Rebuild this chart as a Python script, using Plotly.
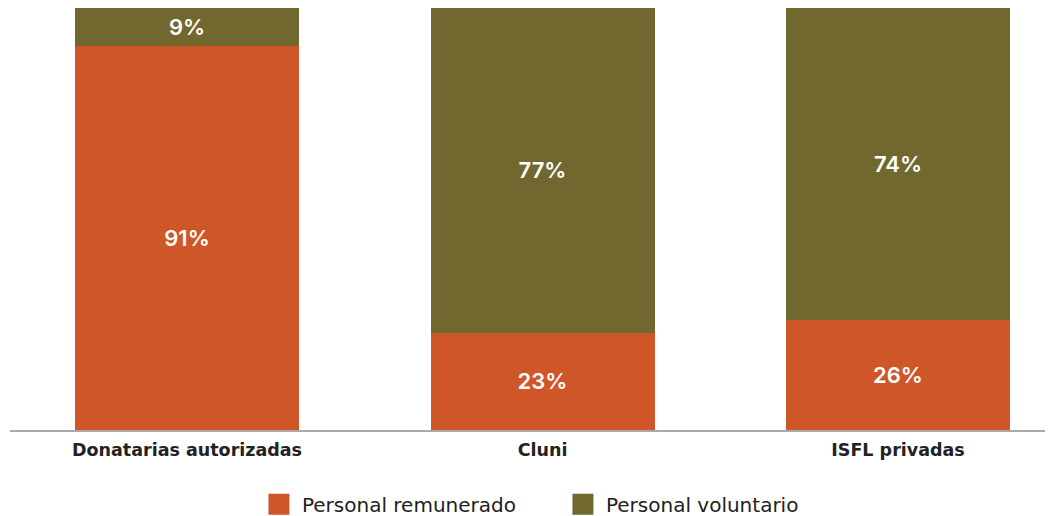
import plotly.graph_objects as go

categories = ["Donatarias autorizadas", "Cluni", "ISFL privadas"]
remunerado = [91, 23, 26]
voluntario = [9, 77, 74]
series_names = ["Personal remunerado", "Personal voluntario"]
colors = ["#CF5628", "#716830"]

LABEL_FONT = "Inter"
TEXT_FONT = "DejaVu Sans"

fig = go.Figure()
for name, vals, col in zip(series_names, [remunerado, voluntario], colors):
    fig.add_trace(go.Bar(
        x=categories, y=vals, name=name, marker_color=col, marker_line_width=0,
        text=[f"{v}%" for v in vals], textposition="inside", insidetextanchor="middle",
        textfont=dict(color="white", size=22, family=LABEL_FONT, weight=600), width=0.63,
        hoverinfo="skip", showlegend=False,
    ))
# legend entries with larger square swatches
for name, col in zip(series_names, colors):
    fig.add_trace(go.Scatter(
        x=[None], y=[None], mode="markers", name=name,
        marker=dict(symbol="square", size=16, color=col, line=dict(color=col, width=5)),
        showlegend=True, hoverinfo="skip",
    ))

fig.update_layout(
    barmode="stack",
    width=1045, height=530,
    margin=dict(l=2, r=0, t=0, b=108),
    plot_bgcolor="white", paper_bgcolor="white",
    font=dict(family=TEXT_FONT, color="#222222"),
    showlegend=True,
    legend=dict(orientation="h", x=0.2358, xanchor="left", y=-0.176,
                yanchor="middle", font=dict(size=20, color="#222222", family=TEXT_FONT),
                itemsizing="trace", traceorder="normal", itemwidth=36,
                entrywidth=253, entrywidthmode="pixels"),
    uniformtext=dict(minsize=10, mode="show"),
)
fig.update_xaxes(range=[-0.498, 2.436], showline=True, linecolor="#AAAAAA", linewidth=2,
                 ticks="", ticklabelstandoff=3,
                 tickfont=dict(size=17.5, color="#222222", family=TEXT_FONT, weight="bold"),
                 showgrid=False)
fig.update_yaxes(range=[0, 100], visible=False, showgrid=False)

fig.write_html("out.html")
